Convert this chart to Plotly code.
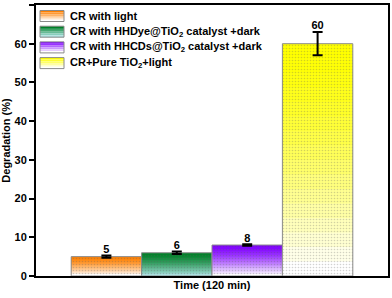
import plotly.graph_objects as go

categories = ["CR with light",
              "CR with HHDye@TiO<sub>2</sub> catalyst +dark",
              "CR with HHCDs@TiO<sub>2</sub> catalyst +dark",
              "CR+Pure TiO<sub>2</sub>+light"]
values = [5, 6, 8, 60]
errors = [0.3, 0.3, 0.2, 3.0]
value_labels = ["5", "6", "8", "60"]

top_colors = [(255, 128, 0), (0, 128, 40), (128, 0, 255), (255, 255, 0)]
bottom_colors = [(255, 255, 255), (170, 225, 225), (255, 255, 255), (255, 255, 255)]

FONT = "Arial, Liberation Sans, sans-serif"
N = 16

W, H = 392, 298
ML, MR, MT, MB = 36, 4, 5, 22
PW, PH = W - ML - MR, H - MT - MB


def px_x(p):
    return (p - ML) / PW


def px_y(p):
    return 1 - (p - MT) / PH


def mix(ct, cb, t):
    return "rgb(%d,%d,%d)" % tuple(round(ct[j] + (cb[j] - ct[j]) * t) for j in range(3))


fig = go.Figure()
for i, (name, v, e) in enumerate(zip(categories, values, errors)):
    ct, cb = top_colors[i], bottom_colors[i]
    for k in range(N):
        h = v * (N - k) / N
        fig.add_trace(go.Bar(
            x=[i], y=[h], width=1.0, name=name, showlegend=False,
            marker=dict(color=mix(ct, cb, (k / (N - 1)) ** 1.4), line=dict(width=0),
                        pattern=dict(shape=".", fgcolor="rgba(90,90,90,0.55)",
                                     size=3, solidity=0.22)),
            hoverinfo="skip"))
    fig.add_trace(go.Bar(
        x=[i], y=[v], width=1.0, showlegend=False,
        marker=dict(color="rgba(0,0,0,0)", line=dict(color="#8a8a8a", width=1)),
        error_y=dict(type="data", array=[e], color="black", thickness=2, width=5),
        hoverinfo="skip"))

fig.add_trace(go.Scatter(
    x=list(range(len(values))), y=[v + e for v, e in zip(values, errors)],
    mode="text", text=value_labels, textposition="top center",
    textfont=dict(family=FONT, size=11, color="black", weight="bold"),
    showlegend=False, hoverinfo="skip"))

# manual legend (gradient swatches + labels)
shapes, annotations = [], []
row0, row_gap, sw_h = 16, 15.7, 11
sw_x0, sw_x1, txt_x = 40, 64, 68
S = 6
for i, name in enumerate(categories):
    yc = row0 + row_gap * i
    top = yc - sw_h / 2
    for k in range(S):
        shapes.append(dict(type="rect", xref="paper", yref="paper",
                           x0=px_x(sw_x0), x1=px_x(sw_x1),
                           y0=px_y(top + sw_h * (k + 1) / S), y1=px_y(top + sw_h * k / S),
                           fillcolor=mix(top_colors[i], bottom_colors[i], k / (S - 1)),
                           line=dict(width=0), layer="above"))
    shapes.append(dict(type="rect", xref="paper", yref="paper",
                       x0=px_x(sw_x0), x1=px_x(sw_x1),
                       y0=px_y(top + sw_h), y1=px_y(top),
                       line=dict(color="#8a8a8a", width=1), layer="above"))
    annotations.append(dict(xref="paper", yref="paper", x=px_x(txt_x), y=px_y(yc),
                            xanchor="left", yanchor="middle", showarrow=False,
                            text=name,
                            font=dict(family=FONT, size=11, color="black", weight="bold")))

fig.update_layout(
    width=W, height=H, barmode="overlay", showlegend=False,
    margin=dict(l=ML, r=MR, t=MT, b=MB, autoexpand=False),
    paper_bgcolor="white", plot_bgcolor="white",
    font=dict(family=FONT, color="black", size=11, weight="bold"),
    shapes=shapes, annotations=annotations,
    xaxis=dict(range=[-1, 4], showticklabels=False, ticks="", showgrid=False,
               zeroline=False, showline=True, linecolor="black", linewidth=2,
               mirror=True, automargin=False,
               title=dict(text="Time (120 min)", standoff=4,
                          font=dict(family=FONT, size=11, weight="bold"))),
    yaxis=dict(range=[0, 70], dtick=10, ticks="outside", ticklen=5, tickwidth=2,
               tickcolor="black", showgrid=False, zeroline=False, showline=True,
               linecolor="black", linewidth=2, mirror=True, automargin=False,
               tickfont=dict(family=FONT, size=11, weight="bold"),
               title=dict(text="Degradation (%)", standoff=2,
                          font=dict(family=FONT, size=11, weight="bold"))),
)
fig.write_html("out.html", config={"displayModeBar": False},
               post_script="document.body.style.margin='0';document.body.style.overflow='hidden';")
